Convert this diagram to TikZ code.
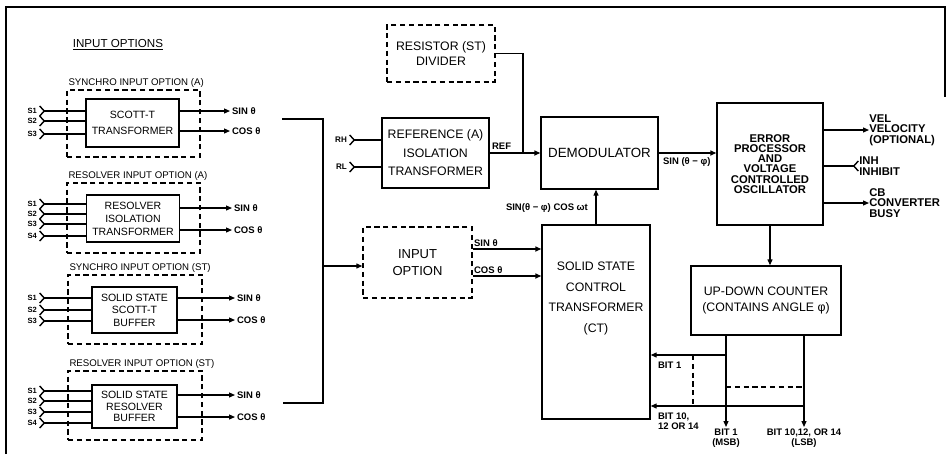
\documentclass[tikz,border=0pt]{standalone}
\usepackage{fontspec}
\setmainfont{Liberation Sans}
\usepackage{tikz}
\usetikzlibrary{arrows.meta,positioning}

\begin{document}
\begin{tikzpicture}[
  x=0.02cm,y=-0.02cm,
  blk/.style={draw,rectangle,line width=0.8pt,align=center,font=\fontsize{7}{10.5}\selectfont},
  dblk/.style={blk,dash pattern=on 3pt off 2pt},
  sub/.style={draw,rectangle,line width=0.8pt,align=center},
  optframe/.style={draw,rectangle,line width=0.7pt,dash pattern=on 3pt off 2pt},
  optlbl/.style={font=\fontsize{5.5}{6}\selectfont,inner sep=1pt},
  sig/.style={font=\bfseries\fontsize{5.4}{5.4}\selectfont,inner sep=1pt},
  pin/.style={font=\bfseries\fontsize{4.3}{5}\selectfont,inner sep=1pt},
  outlbl/.style={align=left,inner sep=0pt,font=\bfseries\fontsize{6.4}{5.9}\selectfont},
  arr/.style={-{Triangle[length=1.2mm,width=1mm]},line width=0.7pt},
  inp/.style={{Straight Barb[reversed,length=0.9mm,width=2mm,line width=0.8pt]}-,line width=0.7pt},
  outp/.style={-{Straight Barb[reversed,length=0.9mm,width=2mm,line width=0.8pt]},line width=0.7pt},
  bus/.style={line width=1.1pt}
]
\useasboundingbox (0,0) rectangle (947,454);

% frame
\draw[line width=0.8pt] (6,454) -- (6,7) -- (945,7) -- (945,97);

\node[font=\fontsize{6.6}{7}\selectfont] (inhdr) at (118,45) {\underline{INPUT OPTIONS}};

% synchro input option (A)
\node[optframe,minimum width=2.66cm,minimum height=1.34cm,label={[optlbl,anchor=south west]north west:SYNCHRO INPUT OPTION (A)}] (optA) at (133.5,123.5) {};
\node[sub,fill=white,minimum width=1.74cm,minimum height=0.96cm,font=\fontsize{6}{9}\selectfont] (scott) at (132.5,123) {SCOTT-T\\TRANSFORMER};
\node[pin,anchor=east] (pA1) at (39,111) {S1};
\node[pin,anchor=east] (pA2) at (39,121) {S2};
\node[pin,anchor=east] (pA3) at (39,134) {S3};
\draw[inp] (pA1.east) -- (pA1.east -| scott.west);
\draw[inp] (pA2.east) -- (pA2.east -| scott.west);
\draw[inp] (pA3.east) -- (pA3.east -| scott.west);
\node[sig,anchor=west] (oAs) at (230,111) {SIN θ};
\node[sig,anchor=west] (oAc) at (230,131) {COS θ};
\draw[arr] (scott.east |- oAs.west) -- (oAs.west);
\draw[arr] (scott.east |- oAc.west) -- (oAc.west);

% resolver input option (A)
\node[optframe,minimum width=2.66cm,minimum height=1.40cm,label={[optlbl,anchor=south west]north west:RESOLVER INPUT OPTION (A)}] (optB) at (133.5,218) {};
\node[sub,fill=white,minimum width=1.72cm,minimum height=0.94cm,font=\fontsize{6}{7.4}\selectfont] (resiso) at (133,218.5) {RESOLVER\\ISOLATION\\TRANSFORMER};
\node[pin,anchor=east] (pB1) at (39,204) {S1};
\node[pin,anchor=east] (pB2) at (39,214) {S2};
\node[pin,anchor=east] (pB3) at (39,224) {S3};
\node[pin,anchor=east] (pB4) at (39,236) {S4};
\draw[inp] (pB1.east) -- (pB1.east -| resiso.west);
\draw[inp] (pB2.east) -- (pB2.east -| resiso.west);
\draw[inp] (pB3.east) -- (pB3.east -| resiso.west);
\draw[inp] (pB4.east) -- (pB4.east -| resiso.west);
\node[sig,anchor=west] (oBs) at (232,208) {SIN θ};
\node[sig,anchor=west] (oBc) at (232,230) {COS θ};
\draw[arr] (resiso.east |- oBs.west) -- (oBs.west);
\draw[arr] (resiso.east |- oBc.west) -- (oBc.west);

% synchro input option (ST)
\node[optframe,minimum width=2.68cm,minimum height=1.38cm,label={[optlbl,anchor=south west]north west:SYNCHRO INPUT OPTION (ST)}] (optC) at (135,309.5) {};
\node[sub,fill=white,minimum width=1.70cm,minimum height=0.92cm,font=\fontsize{6}{7.1}\selectfont] (stscott) at (134.5,310) {SOLID STATE\\SCOTT-T\\BUFFER};
\node[pin,anchor=east] (pC1) at (39,298) {S1};
\node[pin,anchor=east] (pC2) at (39,310) {S2};
\node[pin,anchor=east] (pC3) at (39,321) {S3};
\draw[inp] (pC1.east) -- (pC1.east -| stscott.west);
\draw[inp] (pC2.east) -- (pC2.east -| stscott.west);
\draw[inp] (pC3.east) -- (pC3.east -| stscott.west);
\node[sig,anchor=west] (oCs) at (235,298) {SIN θ};
\node[sig,anchor=west] (oCc) at (235,320) {COS θ};
\draw[arr] (stscott.east |- oCs.west) -- (oCs.west);
\draw[arr] (stscott.east |- oCc.west) -- (oCc.west);

% resolver input option (ST)
\node[optframe,minimum width=2.68cm,minimum height=1.38cm,label={[optlbl,anchor=south west]north west:RESOLVER INPUT OPTION (ST)}] (optD) at (135,405.5) {};
\node[sub,fill=white,minimum width=1.70cm,minimum height=0.86cm,font=\fontsize{6}{6.6}\selectfont] (stres) at (134.5,406.5) {SOLID STATE\\RESOLVER\\BUFFER};
\node[pin,anchor=east] (pD1) at (39,391) {S1};
\node[pin,anchor=east] (pD2) at (39,401) {S2};
\node[pin,anchor=east] (pD3) at (39,412) {S3};
\node[pin,anchor=east] (pD4) at (39,423) {S4};
\draw[inp] (pD1.east) -- (pD1.east -| stres.west);
\draw[inp] (pD2.east) -- (pD2.east -| stres.west);
\draw[inp] (pD3.east) -- (pD3.east -| stres.west);
\draw[inp] (pD4.east) -- (pD4.east -| stres.west);
\node[sig,anchor=west] (oDs) at (235,395) {SIN θ};
\node[sig,anchor=west] (oDc) at (235,417) {COS θ};
\draw[arr] (stres.east |- oDs.west) -- (oDs.west);
\draw[arr] (stres.east |- oDc.west) -- (oDc.west);

% main blocks
\node[dblk,minimum width=2.16cm,minimum height=1.14cm,font=\fontsize{7}{8.5}\selectfont] (divider) at (441,53.5) {RESISTOR (ST)\\DIVIDER};
\node[blk,minimum width=2.14cm,minimum height=1.40cm] (reference) at (435.5,153) {REFERENCE (A)\\ISOLATION\\TRANSFORMER};
\node[blk,minimum width=2.34cm,minimum height=1.44cm,font=\fontsize{7.6}{9}\selectfont] (demod) at (599.5,153) {DEMODULATOR};
\node[dblk,minimum width=2.18cm,minimum height=1.42cm,font=\fontsize{7.4}{10}\selectfont] (inopt) at (417.5,262.5) {INPUT\\OPTION};
\node[blk,minimum width=2.16cm,minimum height=3.88cm] (ct) at (596,322) {};
\node[font=\fontsize{7}{11.9}\selectfont,align=center] (cttxt) at (596,298.5) {SOLID STATE\\CONTROL\\TRANSFORMER\\(CT)};
\node[blk,minimum width=2.12cm,minimum height=2.44cm,font=\bfseries\fontsize{6.4}{5.8}\selectfont] (errproc) at (770,164) {ERROR\\PROCESSOR\\AND\\VOLTAGE\\CONTROLLED\\OSCILLATOR};
\node[blk,minimum width=3.00cm,minimum height=1.38cm,font=\fontsize{7}{9}\selectfont] (counter) at (766,300.5) {UP-DOWN COUNTER\\(CONTAINS ANGLE φ)};

% bus from the options
\coordinate (busA) at (282,119);
\coordinate (busM) at (323,266);
\coordinate (busD) at (283,403);
\draw[bus] (busA) -| (busM) |- (busD);
\draw[arr] (busM) -- (busM -| inopt.west);

% reference inputs
\node[pin,font=\bfseries\fontsize{4.6}{5}\selectfont,anchor=east] (rh) at (349,140) {RH};
\node[pin,font=\bfseries\fontsize{4.6}{5}\selectfont,anchor=east] (rl) at (349,167) {RL};
\draw[inp] (rh.east) -- (rh.east -| reference.west);
\draw[inp] (rl.east) -- (rl.east -| reference.west);

% reference path
\coordinate (jref) at (523,153);
\draw[line width=0.8pt] (divider.east) -| (jref);
\draw[arr,line width=1pt] (reference.east) -- (demod.west);
\node[sig,anchor=south west] (reflbl) at (490,152) {REF};

% demodulator and error processor
\draw[arr,line width=1pt] (demod.east) -- (demod.east -| errproc.west);
\node[sig,anchor=north west] (errlbl) at (661,156) {SIN (θ − φ)};
\draw[arr] (ct.north) -- (ct.north |- demod.south);
\node[sig,anchor=east] (ctlbl) at (590,208) {SIN(θ − φ) COS ωt};

% input option to CT
\node[sig,anchor=south west] (ioS) at (472,249) {SIN θ};
\node[sig,anchor=south west] (ioC) at (472,276) {COS θ};
\draw[arr,line width=1pt] (inopt.east |- ioS.south west) -- (ioS.south west -| ct.west);
\draw[arr,line width=1pt] (inopt.east |- ioC.south west) -- (ioC.south west -| ct.west);

% error processor outputs
\node[outlbl,anchor=west] (vel) at (869,130) {VEL\\VELOCITY\\(OPTIONAL)};
\node[outlbl,anchor=west] (inh) at (859,166) {INH\\INHIBIT};
\node[outlbl,anchor=west] (cb) at (869,203) {CB\\CONVERTER\\BUSY};
\draw[arr] (errproc.east |- vel.west) -- (vel.west);
\draw[outp] (errproc.east |- inh.west) -- (inh.west);
\draw[arr] (errproc.east |- cb.west) -- (cb.west);
\draw[arr] (errproc.south) -- (errproc.south |- counter.north);

% counter outputs
\node[sig,anchor=north,align=center] (msb) at (726,427) {BIT 1\\(MSB)};
\node[sig,anchor=north,align=center] (lsb) at (804,427) {BIT 10,12, OR 14\\(LSB)};
\draw[arr] (counter.south -| msb.north) -- (msb.north);
\draw[arr] (counter.south -| lsb.north) -- (lsb.north);
\coordinate (j1) at (726,355);
\coordinate (j10) at (804,406);
\draw[arr] (j1) -- (j1 -| ct.east);
\draw[arr] (j10) -- (j10 -| ct.east);
\coordinate (dv1) at (693,355);
\coordinate (dv2) at (693,406);
\coordinate (dh1) at (726,387);
\coordinate (dh2) at (804,387);
\draw[line width=0.7pt,dash pattern=on 3pt off 2pt] (dv1) -- (dv2);
\draw[line width=0.7pt,dash pattern=on 3pt off 2pt] (dh1) -- (dh2);
\node[sig,anchor=west] (bit1) at (656,365) {BIT 1};
\node[sig,anchor=north west,align=left] (bit10) at (656,411) {BIT 10,\\12 OR 14};

\end{tikzpicture}
\end{document}
